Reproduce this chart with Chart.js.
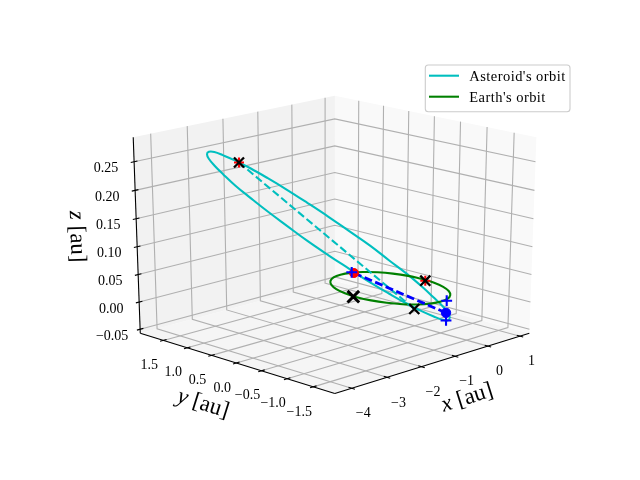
<!DOCTYPE html>
<html><head><meta charset="utf-8"><style>html,body{margin:0;padding:0;background:#fff}canvas{display:block}</style>
<script src="https://cdn.jsdelivr.net/npm/chart.js@4"></script></head><body><canvas id="c" width="640" height="480"></canvas>
<script>
const xTicks=[-4,-3,-2,-1,0,1], yTicks=[-1.5,-1,-0.5,0,0.5,1,1.5], zTicks=[-0.05,0,0.05,0.1,0.15,0.2,0.25];
const xTickLabels=['\u22124','\u22123','\u22122','\u22121','0','1'];
const yTickLabels=['\u22121.5','\u22121.0','\u22120.5','0.0','0.5','1.0','1.5'];
const zTickLabels=['\u22120.05','0.00','0.05','0.10','0.15','0.20','0.25'];
const xLim=[-4.469,1.296], yLim=[-1.904,1.991], zLim=[-0.0575,0.2924];
const earthX=[1,0.966,0.866,0.707,0.5,0.259,0,-0.259,-0.5,-0.707,-0.866,-0.966,-1,-0.966,-0.866,-0.707,-0.5,-0.259,0,0.259,0.5,0.707,0.866,0.966,1];
const earthY=[0,0.259,0.5,0.707,0.866,0.966,1,0.966,0.866,0.707,0.5,0.259,0,-0.259,-0.5,-0.707,-0.866,-0.966,-1,-0.966,-0.866,-0.707,-0.5,-0.259,0];
const asteroidX=[0.516,0.848,1.116,1.311,1.422,1.446,1.380,1.225,0.986,0.672,0.296,-0.130,-0.590,-1.067,-1.545,-2.008,-2.442,-2.836,-3.177,-3.458,-3.673,-3.817,-3.887,-3.885,-3.809,-3.664,-3.453,-3.181,-2.854,-2.482,-2.073,-1.637,-1.185,-0.731,-0.286,0.134,0.516];
const asteroidY=[-0.860,-0.620,-0.347,-0.048,0.267,0.588,0.903,1.200,1.470,1.702,1.888,2.023,2.102,2.124,2.089,2.001,1.863,1.682,1.463,1.215,0.944,0.660,0.370,0.081,-0.199,-0.463,-0.703,-0.915,-1.092,-1.230,-1.324,-1.371,-1.368,-1.315,-1.211,-1.058,-0.860];
const asteroidZ=[-0.043,-0.059,-0.070,-0.075,-0.075,-0.069,-0.057,-0.040,-0.017,0.009,0.038,0.070,0.102,0.134,0.164,0.193,0.218,0.239,0.256,0.269,0.277,0.279,0.277,0.270,0.258,0.242,0.222,0.199,0.173,0.146,0.116,0.087,0.057,0.028,0.002,-0.022,-0.043];
const redPlus=[[-3.915,0.280,0.276],[0.947,-0.096,0]];
const blackX=[[-3.915,0.280,0.276],[0.947,-0.096,0],[-0.793,-0.989,0]];
const blackXBig=[[-1.028,0.050,0]];
const bluePlus=[[0.311,0.976,0],[0.135,-1.025,0],[1.038,-0.462,-0.067]];
const redDot=[[0.306,0.925,0]];
const blueDot=[[0.210,-0.970,-0.025]];
const asteroidChord=[[-3.915,0.280,0.276],[-0.793,-0.989,0]];
const dotChord=[[0.306,0.925,0],[0.210,-0.970,-0.025]];

const V={cx:334.8,cy:237,Sx:140,Sy:104.3,D:19.2,e:20*Math.PI/180};
const c=Math.cos(V.e),s=Math.sin(V.e),r2=Math.SQRT2;
function proj(x,y,z){const X=-1+2*(x-xLim[0])/(xLim[1]-xLim[0]),Y=-1+2*(y-yLim[0])/(yLim[1]-yLim[0]),Z=-1+2*(z-zLim[0])/(zLim[1]-zLim[0]);
 const xr=(X-Y)/r2,yr=s/r2*(X+Y)+c*Z,w=-c/r2*(X+Y)+s*Z,f=V.D/(V.D-w);return {x:V.cx+V.Sx*xr*f,y:V.cy-V.Sy*yr*f};}
const P=a=>proj(a[0],a[1],a[2]);
const ds=[];
function line(pts,color,w,extra){ds.push(Object.assign({data:pts,showLine:true,borderColor:color,borderWidth:w,pointRadius:0,clip:false,tension:0},extra||{}));}
function mark(pts,style,r,color,bw,ord){ds.push({data:pts.map(P),showLine:false,pointStyle:style,pointRadius:r,pointBorderColor:color,pointBackgroundColor:color,pointBorderWidth:bw,clip:false,order:ord});}
const x0=xLim[0],x1=xLim[1],y0=yLim[0],y1=yLim[1],z0=zLim[0],z1=zLim[1];
function pane(a,col){ds.push({data:a.map(P),showLine:true,fill:'shape',backgroundColor:col,borderWidth:0,pointRadius:0,clip:false,order:100});}
pane([[x0,y1,z0],[x1,y1,z0],[x1,y1,z1],[x0,y1,z1],[x0,y1,z0]],'#f2f2f2');
pane([[x1,y0,z0],[x1,y1,z0],[x1,y1,z1],[x1,y0,z1],[x1,y0,z0]],'#f9f9f9');
pane([[x0,y0,z0],[x1,y0,z0],[x1,y1,z0],[x0,y1,z0],[x0,y0,z0]],'#f5f5f5');
const G='#b0b0b0';
xTicks.forEach(v=>line([[v,y0,z0],[v,y1,z0],[v,y1,z1]].map(P),G,1.1,{order:90}));
yTicks.forEach(v=>line([[x0,v,z0],[x1,v,z0],[x1,v,z1]].map(P),G,1.1,{order:90}));
zTicks.forEach(v=>line([[x0,y1,v],[x1,y1,v],[x1,y0,v]].map(P),G,1.1,{order:90}));
const K='#000';
line([[x0,y0,z0],[x1,y0,z0]].map(P),K,1.1,{order:80});
line([[x0,y1,z0],[x0,y0,z0]].map(P),K,1.1,{order:80});
line([[x0,y1,z0],[x0,y1,z1]].map(P),K,1.1,{order:80});
xTicks.forEach(v=>line([[v,y0+0.06,z0],[v,y0-0.06,z0]].map(P),K,1.1,{order:80}));
yTicks.forEach(v=>line([[x0+0.09,v,z0],[x0-0.09,v,z0]].map(P),K,1.1,{order:80}));
zTicks.forEach(v=>line([[x0+0.09,y1,v],[x0-0.09,y1,v]].map(P),K,1.1,{order:80}));
line(asteroidX.map((v,i)=>proj(v,asteroidY[i],asteroidZ[i])),'#00bfbf',2.08,{label:"Asteroid's orbit",order:50,tension:0.4});
line(earthX.map((v,i)=>proj(v,earthY[i],0)),'#008000',2.08,{label:"Earth's orbit",order:49,tension:0.4});
line(asteroidChord.map(P),'#00bfbf',2.08,{borderDash:[7.7,3.3],order:48});
line(dotChord.map(P),'#0000ff',2.8,{borderDash:[8,3.5],order:47});
mark(redDot,'circle',4.5,'#ff0000',1,30);
mark(blueDot,'circle',4.7,'#0000ff',1,30);
mark(redPlus,'cross',5,'#ff0000',2.1,25);
mark(bluePlus,'cross',5.4,'#0000ff',2.1,20);
mark(blackX,'crossRot',7.1,'#000',2.3,10);
mark(blackXBig,'crossRot',8.2,'#000',3,10);
const SER='"Liberation Serif"';
const textPlugin={id:'text3d',afterDatasetsDraw(ch){const g=ch.ctx;g.save();g.fillStyle='#000';g.textAlign='center';g.textBaseline='middle';g.font='14px '+SER;
 xTicks.forEach((v,i)=>{const p=proj(v,y0,z0);g.fillText(xTickLabels[i],p.x+11.5,p.y+25.5);});
 yTicks.forEach((v,i)=>{const p=proj(x0,v,z0);g.fillText(yTickLabels[i],p.x-14,p.y+25);});
 zTicks.forEach((v,i)=>{const p=proj(x0,y1,v);g.fillText(zTickLabels[i],p.x-28,p.y+7);});
 function label(cx,cy,ang,it,rest){g.save();g.translate(cx,cy);g.rotate(ang*Math.PI/180);g.textAlign='left';g.font='italic 23px '+SER;const a=g.measureText(it).width;g.font='23px '+SER;const b=g.measureText(rest).width;const st=-(a+b)/2;g.font='italic 23px '+SER;g.fillText(it,st,0);g.font='23px '+SER;g.fillText(rest,st+a,0);g.restore();}
 label(467.3,398,-17.5,'x',' [au]');label(203,404,17.5,'y',' [au]');label(76.7,236.7,88,'z',' [au]');
 g.fillStyle='rgba(255,255,255,0.8)';g.strokeStyle='#ccc';g.lineWidth=1.1;g.beginPath();g.roundRect(425.3,65,144.7,46.7,3);g.fill();g.stroke();
 const items=ch.data.datasets.filter(d=>d.label);g.textAlign='left';g.font='14.5px '+SER;g.letterSpacing='0.45px';g.textBaseline='alphabetic';
 items.forEach((d,i)=>{const y=75.7+21*i;g.strokeStyle=d.borderColor;g.lineWidth=2.08;g.beginPath();g.moveTo(429,y);g.lineTo(459,y);g.stroke();g.fillStyle='#000';g.fillText(d.label,469.3,y+5);});
 g.restore();}};
new Chart(document.getElementById('c'),{type:'scatter',data:{datasets:ds},plugins:[textPlugin],options:{responsive:false,animation:false,devicePixelRatio:1,layout:{padding:0,autoPadding:false},plugins:{legend:{display:false},tooltip:{enabled:false}},scales:{x:{type:'linear',min:0,max:640,display:false},y:{type:'linear',min:0,max:480,reverse:true,display:false}}}});
</script></body></html>
